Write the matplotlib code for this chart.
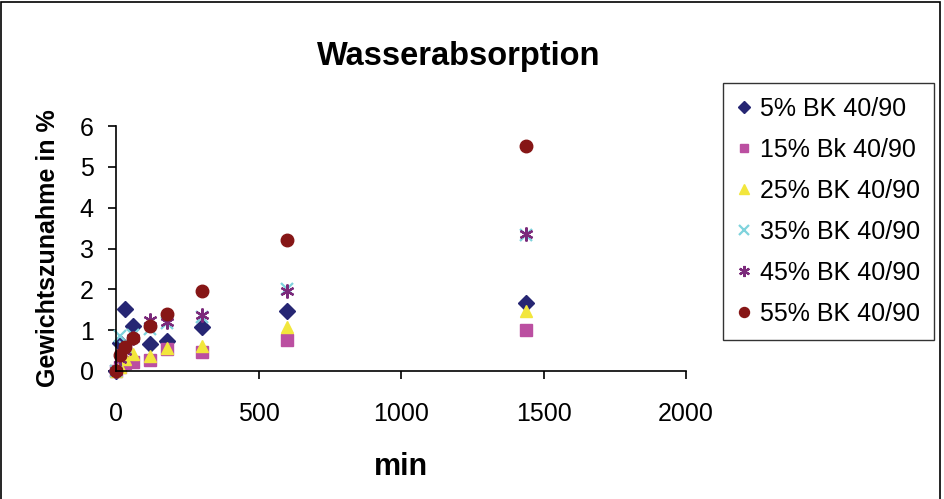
import numpy as np
import matplotlib
matplotlib.use("Agg")
import matplotlib.pyplot as plt
from matplotlib.patches import Rectangle

plt.rcParams['font.family'] = ['Liberation Sans', 'DejaVu Sans']

t_min = [0, 15, 30, 60, 120, 180, 300, 600, 1440]

bk5 = [0.0, 0.68, 1.52, 1.10, 0.66, 0.74, 1.07, 1.47, 1.67]
bk15 = [0.0, 0.10, 0.20, 0.22, 0.28, 0.55, 0.46, 0.76, 1.00]
bk25 = [0.0, 0.10, 0.30, 0.42, 0.36, 0.56, 0.62, 1.07, 1.47]
bk35 = [0.0, 0.85, 0.60, 0.88, 1.03, 1.17, 1.33, 2.00, 3.33]
bk45 = [0.0, 0.30, 0.50, 0.80, 1.25, 1.20, 1.37, 1.97, 3.35]
bk55 = [0.0, 0.40, 0.58, 0.80, 1.10, 1.40, 1.97, 3.20, 5.52]

series = [
    ("5% BK 40/90", bk5, dict(marker="D", color="#262673", ms=8)),
    ("15% Bk 40/90", bk15, dict(marker="s", color="#BB4FA1", ms=8)),
    ("25% BK 40/90", bk25, dict(marker="^", color="#F2E63C", ms=9)),
    ("35% BK 40/90", bk35, dict(marker="x", color="#7FD3DC", ms=9, mew=1.6)),
    ("45% BK 40/90", bk45, dict(marker=(6, 2, 0), color="#7B2A7B", ms=10, mew=1.6)),
    ("55% BK 40/90", bk55, dict(marker="o", color="#861616", ms=9)),
]

fig = plt.figure(figsize=(9.44, 4.99), dpi=100)
ax = fig.add_axes([116 / 944, 1 - 371 / 499, 570 / 944, 245 / 499])

for label, vals, st in series:
    ax.plot(t_min, vals, linestyle="none", label=label, clip_on=False,
            markeredgecolor=st["color"], **st)

ax.set_xlim(0, 2000)
ax.set_ylim(0, 6)
ax.set_xticks([0, 500, 1000, 1500, 2000])
ax.set_yticks(range(0, 7))
ax.spines["top"].set_visible(False)
ax.spines["right"].set_visible(False)
for s in ("left", "bottom"):
    ax.spines[s].set_linewidth(1.2)
ax.tick_params(axis="x", direction="out", length=6, width=1.2, pad=16, labelsize=18)
ax.tick_params(axis="y", direction="out", length=6, width=1.2, pad=10, labelsize=18)

ax.set_xlabel("min", fontsize=22, fontweight="bold", labelpad=19)
ax.set_ylabel("Gewichtszunahme in %", fontsize=18, fontweight="bold", labelpad=14)
fig.text(459 / 944, 1 - 57 / 499, "Wasserabsorption", fontsize=23.5,
         fontweight="bold", ha="center", va="center")

leg = ax.legend(loc="upper left", bbox_to_anchor=(723 / 944, 1 - 83 / 499),
                bbox_transform=fig.transFigure, fontsize=18, frameon=True,
                fancybox=False, edgecolor="black", markerscale=0.8,
                handlelength=0.6, handletextpad=0.35, labelspacing=0.68,
                borderpad=0.55, borderaxespad=0)
leg.get_frame().set_linewidth(1.0)

# outer chart border
fig.patches.append(Rectangle((1 / 944, -0.02), 939 / 944, 1.015, transform=fig.transFigure,
                             fill=False, edgecolor="black", linewidth=1.2))

fig.savefig("out.png", dpi=100)
